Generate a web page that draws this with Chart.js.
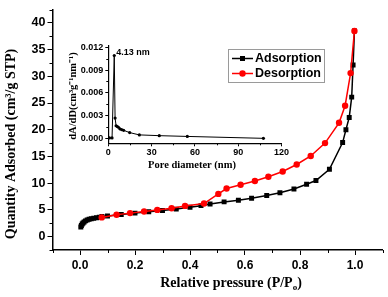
<!DOCTYPE html>
<html>
<head>
<meta charset="utf-8">
<script src="https://cdn.jsdelivr.net/npm/chart.js@4.4.0/dist/chart.umd.min.js"></script>
<style>
  body { margin: 0; background: #fff; }
  #wrap { position: relative; width: 388px; height: 297px; }
  #wrap canvas { position: absolute; left: 0; top: 0; }
</style>
</head>
<body>
<div id="wrap">
  <canvas id="main" width="388" height="297"></canvas>
  <canvas id="inset" width="388" height="297"></canvas>
</div>
<script>
// isotherm, relative pressure P/Po vs quantity adsorbed (cm3/g STP)
var adsP = [0.003, 0.005, 0.008, 0.011, 0.015, 0.02, 0.026, 0.033, 0.041, 0.05, 0.06, 0.07, 0.08, 0.1, 0.15, 0.2, 0.25, 0.3, 0.35, 0.4, 0.44, 0.473, 0.524, 0.576, 0.624, 0.679, 0.727, 0.778, 0.824, 0.858, 0.907, 0.955, 0.967, 0.979, 0.988, 0.993, 0.998];
var adsQ = [1.8, 2.1, 2.35, 2.55, 2.75, 2.95, 3.1, 3.25, 3.35, 3.45, 3.55, 3.65, 3.75, 3.85, 4.15, 4.4, 4.65, 4.9, 5.15, 5.5, 5.8, 6.1, 6.5, 6.8, 7.2, 7.7, 8.2, 8.9, 9.8, 10.5, 12.6, 17.6, 20.0, 22.3, 26.1, 32.1, 38.5];
var desP = [0.079, 0.133, 0.182, 0.233, 0.281, 0.333, 0.382, 0.451, 0.503, 0.533, 0.584, 0.636, 0.685, 0.737, 0.788, 0.839, 0.891, 0.942, 0.964, 0.984, 0.998];
var desQ = [3.6, 4.1, 4.4, 4.7, 5.0, 5.3, 5.75, 6.2, 8.0, 9.0, 9.7, 10.4, 11.2, 12.2, 13.5, 15.1, 17.5, 21.3, 24.5, 30.6, 38.5];

// inset, pore size distribution
var poreD = [0.8, 2.6, 4.13, 4.7, 5.4, 6.2, 7.0, 8.0, 9.2, 10.6, 14.8, 21.5, 35.3, 54.7, 107.4];
var poreV = [0.0001, 0.0001, 0.0109, 0.0027, 0.0017, 0.0016, 0.0015, 0.0013, 0.0012, 0.0011, 0.0008, 0.0005, 0.0004, 0.0003, 0.00005];

// labelled ticks, and the short unlabelled ones in between
var xTicks = [0, 0.2, 0.4, 0.6, 0.8, 1.0];
var xMinor = [-0.1, 0.1, 0.3, 0.5, 0.7, 0.9, 1.1];
var yTicks = [0, 5, 10, 15, 20, 25, 30, 35, 40];
var yMinor = [-2.5, 2.5, 7.5, 12.5, 17.5, 22.5, 27.5, 32.5, 37.5, 42.5];
var insetXTicks = [0, 30, 60, 90, 120];
var insetXMinor = [15, 45, 75, 105];
var insetYTicks = [0, 0.003, 0.006, 0.009, 0.012];
var insetYMinor = [0.0015, 0.0045, 0.0075, 0.0105];

var seriesNames = ['Adsorption', 'Desorption'];
var peakLabel = '4.13 nm';

function pts(xs, ys) {
  return xs.map(function (x, i) { return { x: x, y: ys[i] }; });
}

var SANS = '"Liberation Sans", Arial, sans-serif';
var SERIF = '"Liberation Serif", "Times New Roman", serif';

function setTicks(major) {
  return function (s) {
    s.ticks = major.map(function (v) { return { value: v }; });
  };
}

// short ticks between the labelled ones
function minorTicks(len, xm, ym) {
  return {
    id: 'minorTicks',
    afterDraw: function (chart) {
      var c = chart.ctx;
      var xs = chart.scales.x, ys = chart.scales.y;
      c.save();
      c.strokeStyle = '#000';
      c.lineWidth = 1;
      c.beginPath();
      xm.forEach(function (v) {
        var p = Math.round(xs.getPixelForValue(v)) + 0.5;
        c.moveTo(p, xs.top);
        c.lineTo(p, xs.top + len);
      });
      ym.forEach(function (v) {
        var p = Math.round(ys.getPixelForValue(v)) + 0.5;
        c.moveTo(ys.right, p);
        c.lineTo(ys.right - len, p);
      });
      c.stroke();
      c.restore();
    }
  };
}

var mainTitles = {
  id: 'mainTitles',
  afterDraw: function (chart) {
    var c = chart.ctx;
    c.save();
    c.fillStyle = '#000';
    c.textBaseline = 'middle';
    // y title
    c.font = 'bold 14px ' + SERIF;
    c.translate(11, 144);
    c.rotate(-Math.PI / 2);
    c.textAlign = 'center';
    c.fillText('Quantity Adsorbed (cm³/g STP)', 0, 0);
    c.setTransform(1, 0, 0, 1, 0, 0);
    // x title with subscript o
    var a = 'Relative pressure (P/P', sub = 'o', b = ')';
    c.font = 'bold 14px ' + SERIF;
    var wa = c.measureText(a).width, wb = c.measureText(b).width;
    c.font = 'bold 9px ' + SERIF;
    var ws = c.measureText(sub).width;
    var x0 = 231 - (wa + ws + wb) / 2, y0 = 283;
    c.textAlign = 'left';
    c.font = 'bold 14px ' + SERIF;
    c.fillText(a, x0, y0);
    c.font = 'bold 9px ' + SERIF;
    c.fillText(sub, x0 + wa, y0 + 5);
    c.font = 'bold 14px ' + SERIF;
    c.fillText(b, x0 + wa + ws, y0);
    c.restore();
  }
};

var legendBox = {
  id: 'legendBox',
  afterDraw: function (chart) {
    var c = chart.ctx;
    c.save();
    c.strokeStyle = '#9a9a9a';
    c.lineWidth = 1;
    c.strokeRect(228.5, 49.5, 96, 33);
    c.font = 'bold 12.5px ' + SANS;
    c.textBaseline = 'middle';
    var rows = [
      { y: 58.5, color: '#000', shape: 'rect', text: seriesNames[0] },
      { y: 73.5, color: '#ff0000', shape: 'circle', text: seriesNames[1] }
    ];
    rows.forEach(function (r) {
      c.strokeStyle = r.color;
      c.fillStyle = r.color;
      c.lineWidth = 1.5;
      c.beginPath();
      c.moveTo(232, r.y);
      c.lineTo(253, r.y);
      c.stroke();
      if (r.shape === 'rect') {
        c.fillRect(240, r.y - 2.5, 5, 5);
      } else {
        c.beginPath();
        c.arc(242.5, r.y, 3.2, 0, Math.PI * 2);
        c.fill();
      }
      c.fillStyle = '#000';
      c.fillText(r.text, 255, r.y + 0.5);
    });
    c.restore();
  }
};

new Chart(document.getElementById('main'), {
  type: 'scatter',
  data: {
    datasets: [{
      label: seriesNames[0],
      data: pts(adsP, adsQ),
      showLine: true,
      borderColor: '#000',
      backgroundColor: '#000',
      borderWidth: 1.5,
      pointStyle: 'rect',
      pointRadius: 3.5,
      pointBorderWidth: 0,
      order: 2
    }, {
      label: seriesNames[1],
      data: pts(desP, desQ),
      showLine: true,
      borderColor: '#ff0000',
      backgroundColor: '#ff0000',
      borderWidth: 1.5,
      pointStyle: 'circle',
      pointRadius: 3.2,
      pointBorderWidth: 0,
      order: 1
    }]
  },
  options: {
    responsive: false,
    animation: false,
    devicePixelRatio: 1,
    layout: { padding: { top: 2.5, right: 5.5, left: 0, bottom: 0 } },
    plugins: { legend: { display: false }, tooltip: { enabled: false } },
    scales: {
      x: {
        type: 'linear',
        min: -0.1, max: 1.1,
        afterBuildTicks: setTicks(xTicks),
        afterFit: function (s) { s.height = 47; },
        border: { display: true, color: '#000', width: 1.5 },
        grid: { drawOnChartArea: false, drawTicks: true, tickLength: 5, tickWidth: 1, tickColor: '#000' },
        ticks: { autoSkip: false, maxRotation: 0, padding: 3, color: '#000',
          font: { family: SANS, size: 12, weight: 'bold' },
          callback: function (v) { return v.toFixed(1); } }
      },
      y: {
        type: 'linear',
        min: -2.5, max: 42.5,
        afterBuildTicks: setTicks(yTicks),
        afterFit: function (s) { s.width = 52.5; },
        border: { display: true, color: '#000', width: 1.5 },
        grid: { drawOnChartArea: false, drawTicks: true, tickLength: 5, tickWidth: 1, tickColor: '#000' },
        ticks: { autoSkip: false, padding: 2, color: '#000',
          font: { family: SANS, size: 12.5, weight: 'bold' },
          callback: function (v) { return String(v); } }
      }
    }
  },
  plugins: [minorTicks(3, xMinor, yMinor), mainTitles, legendBox]
});

var insetText = {
  id: 'insetText',
  afterDraw: function (chart) {
    var c = chart.ctx;
    var xs = chart.scales.x, ys = chart.scales.y;
    c.save();
    c.fillStyle = '#000';
    c.textBaseline = 'middle';
    // peak annotation
    c.font = 'bold 9px ' + SANS;
    c.textAlign = 'left';
    c.fillText(peakLabel, xs.getPixelForValue(4.13) + 2, ys.getPixelForValue(0.0109) - 3);
    // x title
    c.font = 'bold 10.5px ' + SERIF;
    c.textAlign = 'center';
    c.fillText('Pore diameter (nm)', 192, 165);
    // y title
    c.font = 'bold 10.5px ' + SERIF;
    c.translate(73, 96);
    c.rotate(-Math.PI / 2);
    c.fillText('dA/dD(cm³g⁻¹nm⁻¹)', 0, 0);
    c.restore();
  }
};

new Chart(document.getElementById('inset'), {
  type: 'scatter',
  data: {
    datasets: [{
      data: pts(poreD, poreV),
      showLine: true,
      borderColor: '#000',
      backgroundColor: '#000',
      borderWidth: 1,
      pointStyle: 'circle',
      pointRadius: 1.6,
      pointBorderWidth: 0
    }]
  },
  options: {
    responsive: false,
    animation: false,
    devicePixelRatio: 1,
    layout: { padding: { top: 45.6, right: 106.4, left: 68, bottom: 123.7 } },
    plugins: { legend: { display: false }, tooltip: { enabled: false } },
    scales: {
      x: {
        type: 'linear',
        min: 0, max: 120,
        afterBuildTicks: setTicks(insetXTicks),
        afterFit: function (s) { s.height = 30; },
        border: { display: true, color: '#000', width: 1.2 },
        grid: { drawOnChartArea: false, drawTicks: true, tickLength: 3, tickWidth: 1, tickColor: '#000' },
        ticks: { autoSkip: false, maxRotation: 0, padding: 1, color: '#000',
          font: { family: SANS, size: 9, weight: 'bold' },
          callback: function (v) { return String(v); } }
      },
      y: {
        type: 'linear',
        min: -0.0006, max: 0.0122,
        afterBuildTicks: setTicks(insetYTicks),
        afterFit: function (s) { s.width = 40.3; },
        border: { display: true, color: '#000', width: 1.2 },
        grid: { drawOnChartArea: false, drawTicks: true, tickLength: 3, tickWidth: 1, tickColor: '#000' },
        ticks: { autoSkip: false, padding: 2, color: '#000',
          font: { family: SANS, size: 9, weight: 'bold' },
          callback: function (v) { return v.toFixed(3); } }
      }
    }
  },
  plugins: [minorTicks(2, insetXMinor, insetYMinor), insetText]
});
</script>
</body>
</html>
